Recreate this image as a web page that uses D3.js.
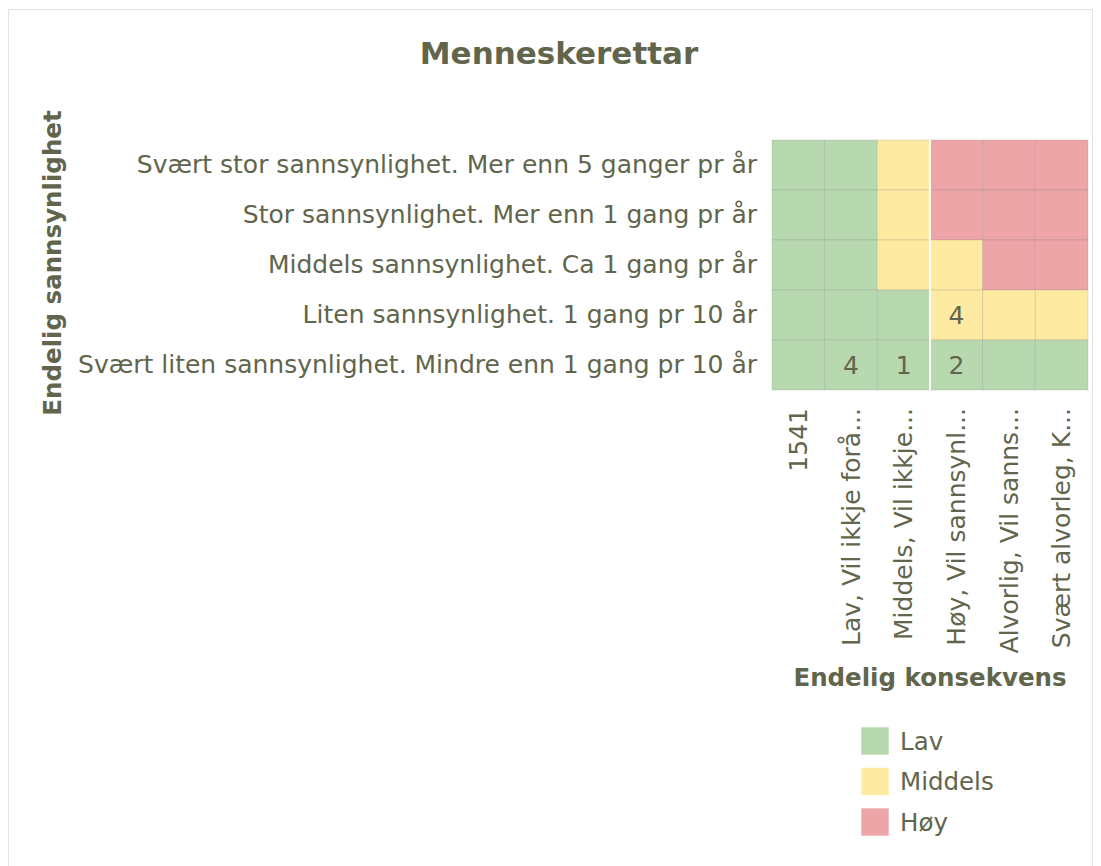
<!DOCTYPE html>
<html><head><meta charset="utf-8">
<script src="https://cdn.jsdelivr.net/npm/d3@7"></script>
<style>body{margin:0;background:#fff;font-family:"DejaVu Sans",Verdana,sans-serif;}</style>
</head><body>
<svg id="c" width="1101" height="866"></svg>
<script>
const title = "Menneskerettar";
const rowLabels = [
  "Svært stor sannsynlighet. Mer enn 5 ganger pr år",
  "Stor sannsynlighet. Mer enn 1 gang pr år",
  "Middels sannsynlighet. Ca 1 gang pr år",
  "Liten sannsynlighet. 1 gang pr 10 år",
  "Svært liten sannsynlighet. Mindre enn 1 gang pr 10 år"
];
const colLabels = ["1541","Lav, Vil ikkje forå...","Middels, Vil ikkje...","Høy, Vil sannsynl...","Alvorlig, Vil sanns...","Svært alvorleg, K..."];
const levels = ["Lav","Middels","Høy"];
const levelColors = ["#b8d9b0","#feeaa0","#eda5a8"];
// risk level per cell (0=Lav,1=Middels,2=Høy), rows top->bottom
const riskGrid = [
  [0,0,1,2,2,2],
  [0,0,1,2,2,2],
  [0,0,1,1,2,2],
  [0,0,0,1,1,1],
  [0,0,0,0,0,0]
];
const counts = [
  [null,null,null,null,null,null],
  [null,null,null,null,null,null],
  [null,null,null,null,null,null],
  [null,null,null,4,null,null],
  [null,4,1,2,null,null]
];
const xTitle = "Endelig konsekvens";
const yTitle = "Endelig sannsynlighet";

const txt = "#61654c";
const ff = "DejaVu Sans, Verdana, sans-serif";
const svg = d3.select("#c");
svg.append("rect").attr("x",8.5).attr("y",9.5).attr("width",1084).attr("height",880)
  .attr("fill","#fff").attr("stroke","#e3e3e3");

svg.append("text").attr("x",559).attr("y",64).attr("text-anchor","middle")
  .attr("font-size",31).attr("font-weight","bold").attr("fill",txt).text(title);

const x = d3.scaleBand().domain(d3.range(colLabels.length)).range([772,1088]);
const y = d3.scaleBand().domain(d3.range(rowLabels.length)).range([140,390]);
const color = d3.scaleOrdinal().domain([0,1,2]).range(levelColors);

const cells = [];
riskGrid.forEach((r,i)=>r.forEach((v,j)=>cells.push({i,j,v,c:counts[i][j]})));
const g = svg.append("g");
g.selectAll("rect.cell").data(cells).join("rect").attr("class","cell")
  .attr("x",d=>x(d.j)).attr("y",d=>y(d.i)).attr("width",x.bandwidth()).attr("height",y.bandwidth())
  .attr("fill",d=>color(d.v)).attr("stroke","rgba(110,110,110,0.18)").attr("stroke-width",1);
g.append("line").attr("x1",x(3)).attr("x2",x(3)).attr("y1",140).attr("y2",390)
  .attr("stroke","#fff").attr("stroke-width",2);
g.selectAll("text.cnt").data(cells.filter(d=>d.c!=null)).join("text").attr("class","cnt")
  .attr("x",d=>x(d.j)+x.bandwidth()/2).attr("y",d=>y(d.i)+y.bandwidth()/2)
  .attr("dy","0.36em").attr("text-anchor","middle").attr("font-size",25).attr("fill",txt).text(d=>d.c);

const ya = svg.append("g").attr("transform","translate(772,0)")
  .call(d3.axisLeft(y).tickSize(0).tickPadding(15).tickFormat(i=>rowLabels[i]));
ya.select(".domain").remove();
ya.selectAll("text").attr("font-size",25).attr("fill",txt).attr("font-family",ff);

const xa = svg.append("g").attr("transform","translate(0,390)")
  .call(d3.axisBottom(x).tickSize(0).tickFormat(i=>colLabels[i]));
xa.select(".domain").remove();
xa.selectAll("text").attr("font-size",25).attr("fill",txt).attr("font-family",ff)
  .attr("transform","rotate(-90)").attr("text-anchor","end").attr("x",-18).attr("y",0).attr("dy","0.35em");

svg.append("text").attr("x",930).attr("y",686).attr("text-anchor","middle")
  .attr("font-size",24.5).attr("font-weight","bold").attr("fill",txt).text(xTitle);
svg.append("text").attr("transform","translate(61,263) rotate(-90)").attr("text-anchor","middle")
  .attr("font-size",24.5).attr("font-weight","bold").attr("fill",txt).text(yTitle);

const lg = svg.append("g");
levels.forEach((l,k)=>{
  lg.append("rect").attr("x",861).attr("y",727+k*40.5).attr("width",28).attr("height",28)
    .attr("fill",levelColors[k]).attr("stroke","rgba(255,255,255,0.6)");
  lg.append("text").attr("x",900).attr("y",741+k*40.5).attr("dy","0.35em")
    .attr("font-size",24.5).attr("fill",txt).text(l);
});
</script>
</body></html>
